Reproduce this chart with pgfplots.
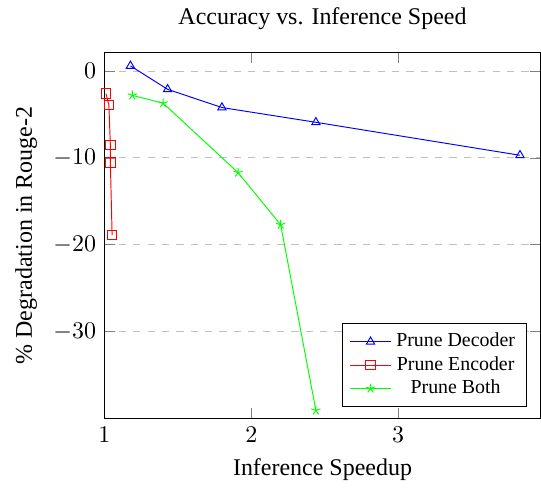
\documentclass[border=0pt]{standalone}
\usepackage{fontspec}
\setmainfont{Liberation Serif}
\usepackage{pgfplots}
\pgfplotsset{compat=1.18}

\begin{document}
\begin{tikzpicture}
  \begin{axis}[
    scale only axis,
    width=182pt, height=152.5pt,
    title={Accuracy vs. Inference Speed},
    xlabel={Inference Speedup},
    ylabel={$\%$ Degradation in Rouge-2},
    xmin=1, xmax=3.97,
    ymin=-40, ymax=2.1,
    xtick={1,2,3},
    ytick={0,-10,-20,-30},
    legend pos=south east,
    legend cell align=center,
    legend style={font=\fontsize{8.3}{9}\selectfont, row sep=-1.5pt},
    ymajorgrids=true,
    grid style=dashed,
]

  \addplot[color=blue, mark=triangle]
  coordinates {
    (1.177,0.6)(1.43,-2.1)(1.80,-4.2)(2.44,-5.9)(3.83,-9.7)
  };
  \addlegendentry{Prune Decoder}

  \addplot[color=red, mark=square]
  coordinates {
    (1.01,-2.6)(1.03,-3.9)(1.04,-8.5)(1.04,-10.5)(1.052,-18.9)
  };
  \addlegendentry{Prune Encoder}

  \addplot[color=green, mark=star]
  coordinates {
    (1.19,-2.8)(1.40,-3.7)(1.91,-11.7)(2.20,-17.7)(2.44,-39.1)
  };
  \addlegendentry{Prune Both}
  \end{axis}
  % a little room on the left, as in the reference
  \path ([xshift=-3pt]current bounding box.west);
\end{tikzpicture}
\end{document}
